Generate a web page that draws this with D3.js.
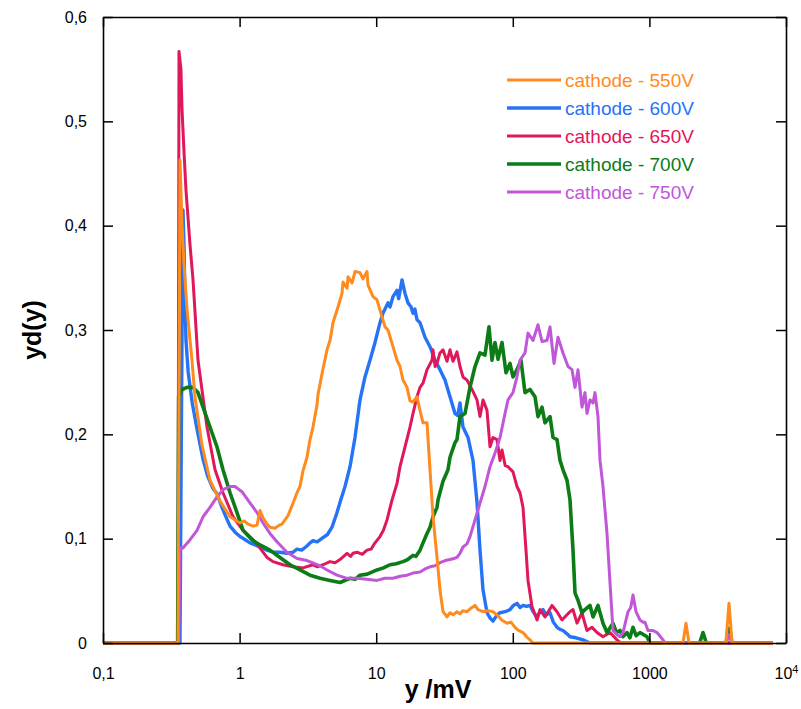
<!DOCTYPE html>
<html>
<head>
<meta charset="utf-8">
<script src="https://cdn.jsdelivr.net/npm/d3@7"></script>
<style>
  html, body { margin: 0; padding: 0; background: #fff; }
  svg { display: block; }
  text { font-family: "Liberation Sans", Arial, Helvetica, sans-serif; }
</style>
</head>
<body>
<svg id="chart" width="801" height="709"></svg>
<script>
// ---------------- data ----------------
const seriesNames = ["cathode - 550V", "cathode - 600V", "cathode - 650V", "cathode - 700V", "cathode - 750V"];
const xTickValues = [0.1, 1, 10, 100, 1000, 10000];
const yTickValues = [0, 0.1, 0.2, 0.3, 0.4, 0.5, 0.6];
const xLabel = "y /mV";
const yLabel = "yd(y)";

// [y (mV), yd(y)]
const s550 = [[0.1,0],[0.354,0],[0.366,0.463],[0.379,0.40],[0.392,0.362],[0.412,0.32],[0.448,0.271],[0.472,0.235],[0.53,0.19],[0.607,0.156],[0.719,0.136],[0.851,0.121],[1.007,0.115],[1.08,0.117],[1.152,0.114],[1.26,0.112],[1.341,0.113],[1.41,0.127],[1.484,0.12],[1.587,0.114],[1.669,0.111],[1.816,0.11],[1.95,0.113],[2.044,0.114],[2.261,0.122],[2.46,0.134],[2.632,0.144],[2.768,0.15],[2.911,0.165],[3.114,0.178],[3.276,0.195],[3.446,0.207],[3.686,0.228],[3.749,0.238],[4.011,0.258],[4.364,0.281],[4.59,0.29],[4.828,0.307],[5.252,0.322],[5.619,0.335],[5.715,0.346],[6.114,0.34],[6.218,0.351],[6.652,0.345],[6.995,0.356],[7.609,0.355],[8.004,0.349],[8.564,0.356],[8.709,0.343],[9.476,0.332],[10.13,0.329],[10.66,0.319],[11.6,0.303],[12.2,0.3],[13.27,0.284],[14.2,0.271],[14.94,0.265],[15.71,0.252],[16.81,0.245],[17.68,0.232],[18.6,0.231],[19.89,0.236],[20.93,0.223],[22.01,0.211],[23.55,0.211],[24.77,0.166],[26.06,0.121],[27.87,0.082],[29.31,0.051],[30.83,0.03],[32.98,0.025],[34.7,0.029],[36.5,0.027],[39.04,0.03],[41.07,0.028],[43.19,0.031],[46.21,0.03],[49,0.033],[52.88,0.036],[55.62,0.032],[60.51,0.03],[66,0.031],[71.63,0.03],[76.63,0.027],[83,0.022],[90.7,0.019],[97,0.02],[103.8,0.015],[110,0.012],[118.8,0.01],[126,0.006],[133.6,0.003],[140,0],[1760,0],[1853,0.019],[1950,0],[3630,0],[3825,0.038],[4030,0],[8000,0]];

const s600 = [[0.1,0],[0.366,0],[0.379,0.30],[0.385,0.415],[0.392,0.38],[0.398,0.33],[0.405,0.29],[0.42,0.26],[0.45,0.23],[0.488,0.205],[0.54,0.176],[0.583,0.16],[0.639,0.148],[0.683,0.143],[0.743,0.13],[0.8,0.12],[0.851,0.112],[0.93,0.106],[1.007,0.102],[1.1,0.099],[1.191,0.096],[1.3,0.094],[1.41,0.092],[1.587,0.089],[1.756,0.087],[1.975,0.087],[2.223,0.086],[2.46,0.087],[2.632,0.09],[2.85,0.089],[3.114,0.093],[3.276,0.096],[3.446,0.098],[3.7,0.097],[4.079,0.101],[4.4,0.104],[4.747,0.111],[5.164,0.125],[5.5,0.137],[5.911,0.15],[6.431,0.169],[6.995,0.197],[7.609,0.233],[8.279,0.255],[9.007,0.271],[9.8,0.288],[10.66,0.307],[11.21,0.316],[12.2,0.326],[12.62,0.322],[13.27,0.332],[14.2,0.338],[14.6,0.33],[15.45,0.348],[16.25,0.335],[17.09,0.326],[18.0,0.322],[18.6,0.316],[19.2,0.32],[19.89,0.31],[20.93,0.307],[22.77,0.293],[24.77,0.284],[26.95,0.271],[29.31,0.262],[31.89,0.252],[34.7,0.236],[37.75,0.22],[39.5,0.218],[41.07,0.23],[43.19,0.207],[46.99,0.197],[51.12,0.175],[54.69,0.135],[57.54,0.089],[60.51,0.051],[64.73,0.029],[68.1,0.024],[71.63,0.021],[76.63,0.027],[80.61,0.029],[88,0.03],[95.39,0.032],[101,0.036],[107.3,0.038],[112.9,0.034],[118.8,0.036],[126,0.035],[133.6,0.036],[141,0.03],[150.4,0.025],[158.2,0.03],[166.4,0.032],[176,0.027],[187.3,0.029],[198,0.02],[210.7,0.015],[222,0.013],[233.1,0.012],[248,0.009],[262.3,0.006],[290,0.005],[326.6,0.003],[367,0],[8000,0]];

const s650 = [[0.1,0],[0.354,0],[0.36,0.567],[0.372,0.55],[0.379,0.511],[0.392,0.47],[0.405,0.434],[0.434,0.381],[0.456,0.348],[0.496,0.271],[0.577,0.207],[0.661,0.166],[0.756,0.144],[0.895,0.121],[1.059,0.108],[1.254,0.099],[1.41,0.091],[1.587,0.082],[1.756,0.078],[2.078,0.075],[2.46,0.073],[2.911,0.072],[3.446,0.075],[3.7,0.073],[4.079,0.075],[4.59,0.078],[5.0,0.077],[5.433,0.08],[6.114,0.086],[6.5,0.083],[6.764,0.086],[7.235,0.087],[7.9,0.085],[8.564,0.089],[9.2,0.09],[9.8,0.096],[10.66,0.102],[11.3,0.108],[12.0,0.118],[13.05,0.137],[14.2,0.153],[14.94,0.169],[16.25,0.188],[17.68,0.207],[18.6,0.22],[19.89,0.236],[20.93,0.245],[22.01,0.249],[23.55,0.262],[25.62,0.271],[26.06,0.281],[27.0,0.265],[27.87,0.268],[29.31,0.278],[30.83,0.281],[32.98,0.27],[34.7,0.281],[36.5,0.27],[39.04,0.279],[41.07,0.265],[43.19,0.255],[46.21,0.252],[50.27,0.243],[54.69,0.233],[57.54,0.217],[60.51,0.233],[64.73,0.223],[68.1,0.188],[71.63,0.197],[76.63,0.195],[80.61,0.175],[83.37,0.185],[88,0.17],[92.23,0.169],[100.3,0.164],[107.3,0.15],[112.9,0.144],[118.8,0.13],[124.9,0.089],[129.2,0.06],[138.2,0.035],[150.4,0.022],[158.2,0.032],[172.1,0.025],[193.6,0.036],[210.7,0.03],[229.2,0.022],[249.3,0.027],[262,0.03],[275.9,0.032],[295.1,0.019],[321.1,0.029],[335,0.02],[349.3,0.012],[380,0.015],[413.4,0.01],[457.4,0.006],[514.6,0.01],[579.1,0.003],[620,0],[8000,0]];

const s700 = [[0.1,0],[0.352,0],[0.358,0.236],[0.379,0.243],[0.412,0.245],[0.456,0.245],[0.496,0.24],[0.54,0.226],[0.607,0.207],[0.683,0.188],[0.756,0.166],[0.851,0.144],[0.957,0.125],[1.059,0.108],[1.232,0.099],[1.41,0.094],[1.669,0.089],[1.975,0.082],[2.339,0.075],[2.768,0.07],[3.276,0.065],[3.878,0.062],[4.59,0.06],[5.433,0.058],[6.431,0.062],[7.0,0.061],[7.609,0.065],[8.6,0.066],[10.13,0.07],[11.3,0.072],[12.62,0.075],[14.0,0.076],[15.71,0.078],[17.0,0.08],[18.6,0.084],[19.5,0.083],[20.93,0.089],[22.01,0.096],[23.55,0.105],[24.77,0.111],[26.06,0.121],[27.87,0.13],[28.35,0.137],[30.83,0.155],[33.54,0.166],[34.7,0.178],[37.75,0.192],[39.04,0.195],[41.07,0.217],[44.68,0.22],[48.6,0.245],[52.88,0.265],[57.54,0.278],[62.59,0.276],[66.96,0.303],[70.44,0.271],[74.09,0.288],[77.93,0.272],[83.37,0.288],[89.19,0.259],[95.39,0.268],[100.3,0.255],[107.3,0.262],[114.8,0.271],[122.8,0.24],[133.6,0.243],[145.4,0.236],[152.9,0.217],[163.6,0.226],[172.1,0.211],[187.3,0.217],[197,0.197],[210.7,0.195],[221.6,0.175],[233.1,0.166],[249.3,0.156],[262.3,0.137],[275.9,0.089],[285.3,0.048],[300.1,0.041],[321.1,0.029],[337.7,0.032],[367.4,0.036],[386.5,0.025],[420.4,0.036],[457.4,0.019],[489.3,0.01],[541.3,0.019],[575,0.01],[609.1,0.012],[640,0.006],[685.5,0.01],[720,0.005],[758.6,0.015],[800,0.007],[853.7,0.01],[960.3,0.006],[1010,0],[2330,0],[2469,0.01],[2610,0],[3630,0],[3825,0.014],[4030,0],[8000,0]];

const s750 = [[0.1,0],[0.358,0],[0.366,0.091],[0.385,0.091],[0.434,0.099],[0.488,0.108],[0.54,0.121],[0.607,0.13],[0.683,0.14],[0.756,0.147],[0.851,0.15],[0.925,0.15],[1.041,0.145],[1.152,0.137],[1.341,0.125],[1.484,0.115],[1.669,0.105],[1.878,0.097],[2.223,0.087],[2.632,0.081],[3.114,0.079],[3.4,0.077],[3.878,0.074],[4.364,0.07],[5.164,0.065],[6.114,0.062],[7.235,0.062],[8.5,0.061],[10.13,0.06],[11.6,0.062],[13.27,0.062],[15.0,0.064],[16.81,0.065],[18.6,0.067],[20.93,0.068],[22.77,0.071],[24.77,0.073],[27.0,0.074],[29.31,0.077],[32.0,0.079],[34.7,0.08],[37.0,0.081],[39.04,0.082],[41.07,0.086],[43.19,0.092],[46.21,0.095],[48.6,0.102],[52.88,0.118],[57.54,0.134],[62.59,0.15],[68.1,0.169],[74.09,0.182],[80.61,0.197],[87.7,0.22],[92.23,0.233],[100.3,0.24],[107.3,0.255],[112.9,0.271],[122.8,0.278],[129.2,0.297],[140.6,0.29],[152.9,0.305],[163.6,0.289],[178,0.29],[187.3,0.303],[200.3,0.268],[214.2,0.293],[233.1,0.278],[253.6,0.265],[271.3,0.262],[285.3,0.245],[300.1,0.262],[321.1,0.226],[337.7,0.24],[349.3,0.22],[367.4,0.233],[386.5,0.23],[399.7,0.24],[420.4,0.217],[434.9,0.175],[457.4,0.15],[489.3,0.105],[514.6,0.058],[541.3,0.012],[579.1,0.008],[609.1,0.006],[640.9,0.01],[697.2,0.03],[730,0.034],[758.6,0.046],[797.9,0.03],[853.7,0.022],[900,0.02],[928.6,0.02],[976.6,0.012],[1060,0.012],[1137,0.01],[1258,0.003],[1301,0],[3630,0],[3825,0.008],[4030,0],[8000,0]];

const seriesData = [s550, s600, s650, s700, s750];
const seriesColors = ["#ff8b1f", "#2673f6", "#e0185a", "#0b7c16", "#c156d9"];
const seriesWidths = [3, 3.4, 3, 3.6, 3];
const drawOrder = [1, 2, 3, 4, 0];

// ---------------- layout ----------------
const W = 801, H = 709;
const margin = { left: 103, right: 15, top: 17, bottom: 66 };
const svg = d3.select("#chart");

const x = d3.scaleLog().domain([0.1, 10000]).range([margin.left, W - margin.right]);
const y = d3.scaleLinear().domain([0, 0.6]).range([H - margin.bottom, margin.top]);

const comma = v => String(v).replace(".", ",");

const axisStroke = g => {
  g.selectAll("path.domain").attr("stroke", "#000").attr("stroke-width", 1.6);
  g.selectAll(".tick line").attr("stroke", "#000").attr("stroke-width", 1.5);
  g.selectAll(".tick text").attr("fill", "#000");
};

// curves (clip to plot)
svg.append("clipPath").attr("id", "clip")
  .append("rect")
  .attr("x", x.range()[0]).attr("y", y.range()[1])
  .attr("width", x.range()[1] - x.range()[0])
  .attr("height", y.range()[0] - y.range()[1] + 2);

const line = d3.line().x(d => x(d[0])).y(d => y(d[1]));
const curves = svg.append("g").attr("clip-path", "url(#clip)");
drawOrder.forEach(i => {
  curves.append("path")
    .datum(seriesData[i])
    .attr("fill", "none")
    .attr("stroke", seriesColors[i])
    .attr("stroke-width", seriesWidths[i])
    .attr("stroke-linejoin", "round")
    .attr("d", line);
});

// axes
const gx = svg.append("g").attr("transform", `translate(0,${y(0)})`)
  .call(d3.axisBottom(x).tickValues(xTickValues)
    .tickFormat(v => v === 10000 ? "" : comma(v))
    .tickSizeInner(-10).tickSizeOuter(0).tickPadding(25))
  .call(axisStroke);
gx.selectAll(".tick text").attr("font-size", 16).attr("font-family", "Liberation Sans, Arial, sans-serif");
gx.selectAll(".tick").filter(d => d === 10000).select("text")
  .call(t => {
    t.append("tspan").text("10");
    t.append("tspan").attr("dy", "-0.55em").attr("font-size", 11).text("4");
  });

svg.append("g").attr("transform", `translate(0,${y(0.6)})`)
  .call(d3.axisTop(x).tickValues(xTickValues).tickFormat("")
    .tickSizeInner(-10).tickSizeOuter(0))
  .call(axisStroke);

const gy = svg.append("g").attr("transform", `translate(${x(0.1)},0)`)
  .call(d3.axisLeft(y).tickValues(yTickValues).tickFormat(comma)
    .tickSizeInner(-10).tickSizeOuter(0).tickPadding(16))
  .call(axisStroke);
gy.selectAll(".tick text").attr("font-size", 16).attr("font-family", "Liberation Sans, Arial, sans-serif");

svg.append("g").attr("transform", `translate(${x(10000)},0)`)
  .call(d3.axisRight(y).tickValues(yTickValues).tickFormat("")
    .tickSizeInner(-10).tickSizeOuter(0))
  .call(axisStroke);

// axis titles
svg.append("text")
  .attr("x", 438).attr("y", 698)
  .attr("text-anchor", "middle")
  .attr("font-size", 25).attr("font-weight", "bold")
  .text(xLabel);

svg.append("text")
  .attr("transform", "translate(41,330) rotate(-90)")
  .attr("text-anchor", "middle")
  .attr("font-size", 25).attr("font-weight", "bold")
  .text(yLabel);

// legend
const legend = svg.append("g").attr("transform", "translate(507,80)");
seriesNames.forEach((name, i) => {
  const row = legend.append("g").attr("transform", `translate(0,${i * 28})`);
  row.append("line").attr("x1", 0).attr("x2", 54).attr("y1", 0).attr("y2", 0)
    .attr("stroke", seriesColors[i]).attr("stroke-width", seriesWidths[i]);
  row.append("text").attr("x", 58).attr("y", 0).attr("dy", "0.35em")
    .attr("font-size", 19).attr("fill", seriesColors[i]).text(name);
});
</script>
</body>
</html>
